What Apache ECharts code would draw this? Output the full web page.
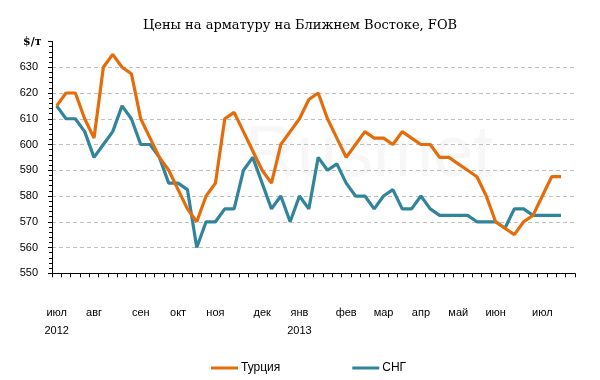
<!DOCTYPE html>
<html><head><meta charset="utf-8">
<script src="https://cdn.jsdelivr.net/npm/echarts@6/dist/echarts.min.js"></script>
<style>html,body{margin:0;padding:0;background:#fff}#c{width:600px;height:380px}</style>
</head><body><div id="c"></div>
<script>
// weekly categories (56 slots), month labels on the first week of each month
const categories = [
 'июл\n2012','','','','авг','','','','','сен','','','','окт','','','','ноя','','','','','дек','','','','янв\n2013','','','','','фев','','','','мар','','','','апр','','','','май','','','','июн','','','','','июл','','',''
];
const turkey = [615,620,620,610,602.5,630,635,630,627.5,610,602.5,595,590,582.5,575,570,580,585,610,612.5,605,597.5,590,585,600,605,610,617.5,620,610,602.5,595,600,605,602.5,602.5,600,605,602.5,600,600,595,595,592.5,590,587.5,580,570,567.5,565,570,572.5,580,587.5,587.5];
const cis = [615,610,610,605,595,600,605,615,610,600,600,595,585,585,582.5,560,570,570,575,575,590,595,585,575,580,570,580,575,595,590,592.5,585,580,580,575,580,582.5,575,575,580,575,572.5,572.5,572.5,572.5,570,570,570,567.5,575,575,572.5,572.5,572.5,572.5];
const seriesNames = ['Турция','СНГ'];
const title = 'Цены на арматуру на Ближнем Востоке, FOB';
const unit = '$/т';

const chart = echarts.init(document.getElementById('c'));
const lbl = {fontFamily:'Liberation Sans', fontSize:11, color:'#000'};
chart.setOption({
  animation:false,
  title:{text:title,left:'center',top:14,textStyle:{fontFamily:'DejaVu Serif',fontSize:13,fontWeight:'normal',color:'#000'}},
  graphic:[
    {type:'text',left:23,top:37,style:{text:unit,font:'bold 11px "DejaVu Serif"',fill:'#000'}},
    {type:'text',left:245,top:120,z:-1,style:{text:'Rusmet',font:'72px "Liberation Sans"',fill:'#f7f7f7'}}
  ],
  grid:{left:52,right:25,top:41.5,bottom:106.7},
  legend:{left:206,top:357,itemWidth:27,itemHeight:3,itemGap:72,icon:'rect',
    textStyle:{fontFamily:'Liberation Sans',fontSize:12,color:'#000',padding:[0,0,0,-2]},
    data:seriesNames},
  xAxis:{type:'category',data:categories,boundaryGap:true,
    axisLine:{lineStyle:{color:'#000',width:1}},
    axisTick:{show:true,interval:0,length:4,lineStyle:{color:'#000'}},
    axisLabel:{interval:0,margin:31,lineHeight:18,...lbl},
    splitLine:{show:false}},
  yAxis:{type:'value',min:550,max:640,interval:10,
    axisLine:{show:true,lineStyle:{color:'#000'}},
    axisTick:{show:true,length:4,lineStyle:{color:'#000'}},
    minorTick:{show:true,splitNumber:5,length:3,lineStyle:{color:'#000'}},
    axisLabel:{margin:14,...lbl,formatter:v=>v>=640?'':String(v)},
    splitLine:{show:true,lineStyle:{color:['#bfbfbf','#bfbfbf','#bfbfbf','#bfbfbf','#bfbfbf','#bfbfbf','#bfbfbf','#bfbfbf','#bfbfbf','rgba(0,0,0,0)'],type:[4,3],width:1}}},
  series:[
    {name:seriesNames[0],type:'line',data:turkey,symbol:'none',color:'#E46C0A',lineStyle:{width:3.2,color:'#E46C0A'},z:3},
    {name:seriesNames[1],type:'line',data:cis,symbol:'none',color:'#31849B',lineStyle:{width:3.2,color:'#31849B'},z:2}
  ]
});
</script></body></html>
